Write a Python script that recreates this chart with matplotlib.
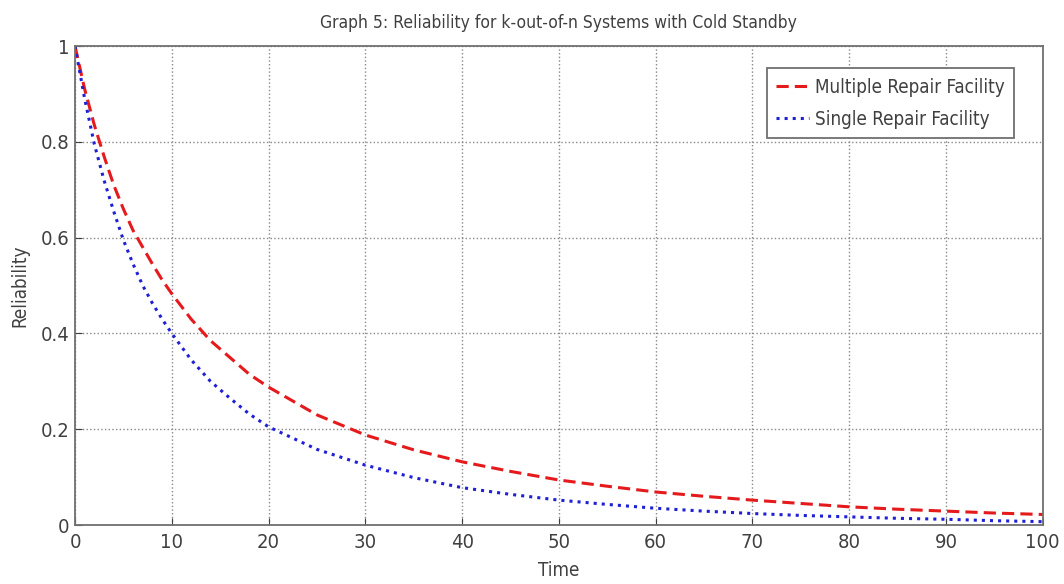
import matplotlib
matplotlib.use("Agg")
import matplotlib.pyplot as plt

plt.rcParams['font.family'] = ['DejaVu Sans']
plt.rcParams['font.stretch'] = 'condensed'

# values
time = [0, 1, 2, 3, 4, 5, 6, 7, 8, 9, 10, 12, 14, 16, 18, 20, 25, 30, 35, 40,
        45, 50, 55, 60, 65, 70, 75, 80, 85, 90, 95, 100]
multiple_repair = [1.0, 0.91, 0.835, 0.77, 0.71, 0.66, 0.615, 0.58, 0.545, 0.512,
                   0.483, 0.43, 0.385, 0.35, 0.315, 0.288, 0.23, 0.188, 0.157,
                   0.132, 0.112, 0.094, 0.081, 0.069, 0.06, 0.052, 0.045, 0.038,
                   0.033, 0.029, 0.025, 0.022]
single_repair = [1.0, 0.89, 0.795, 0.72, 0.655, 0.595, 0.545, 0.50, 0.463, 0.43,
                 0.40, 0.345, 0.30, 0.265, 0.232, 0.205, 0.158, 0.125, 0.099,
                 0.078, 0.064, 0.052, 0.043, 0.035, 0.029, 0.024, 0.02, 0.017,
                 0.014, 0.012, 0.009, 0.007]
xticks = [0, 10, 20, 30, 40, 50, 60, 70, 80, 90, 100]
yticks = [0, 0.2, 0.4, 0.6, 0.8, 1]
ytick_labels = ['0', '0.2', '0.4', '0.6', '0.8', '1']

fig = plt.figure(figsize=(10.64, 5.84), dpi=100)
ax = fig.add_axes([0.0705, 0.101, 0.9095, 0.82])

ax.plot(time, multiple_repair, color='#e41a1c', linestyle='--', linewidth=2.2,
        dashes=(4, 2), label='Multiple Repair Facility')
ax.plot(time, single_repair, color='#1f1fd6', linestyle=':', linewidth=2.2,
        label='Single Repair Facility')

ax.set_xlim(0, 100)
ax.set_ylim(0, 1)
ax.set_xticks(xticks)
ax.set_yticks(yticks)
ax.set_yticklabels(ytick_labels)
ax.tick_params(direction='in', length=5, labelsize=14.5, colors='#404040')
ax.tick_params(axis='x', pad=6)
ax.tick_params(axis='y', pad=4)
ax.grid(True, linestyle=':', color='#888888', linewidth=1)
for sp in ax.spines.values():
    sp.set_color('#707070')
    sp.set_linewidth(1.3)

ax.set_title('Graph 5: Reliability for k-out-of-n Systems with Cold Standby',
             fontsize=12.5, color='#404040', pad=13)
ax.set_xlabel('Time', fontsize=13.5, color='#404040', labelpad=6)
ax.set_ylabel('Reliability', fontsize=13.5, color='#404040', labelpad=8)

leg = ax.legend(loc='upper right', fontsize=13.5, handlelength=1.75,
                handletextpad=0.3, borderpad=0.5, labelspacing=0.7,
                fancybox=False, framealpha=1, bbox_to_anchor=(0.98, 0.973))
leg.get_frame().set_edgecolor('#707070')
leg.get_frame().set_linewidth(1.3)
for t in leg.get_texts():
    t.set_color('#404040')

fig.savefig('out.png', dpi=100)
